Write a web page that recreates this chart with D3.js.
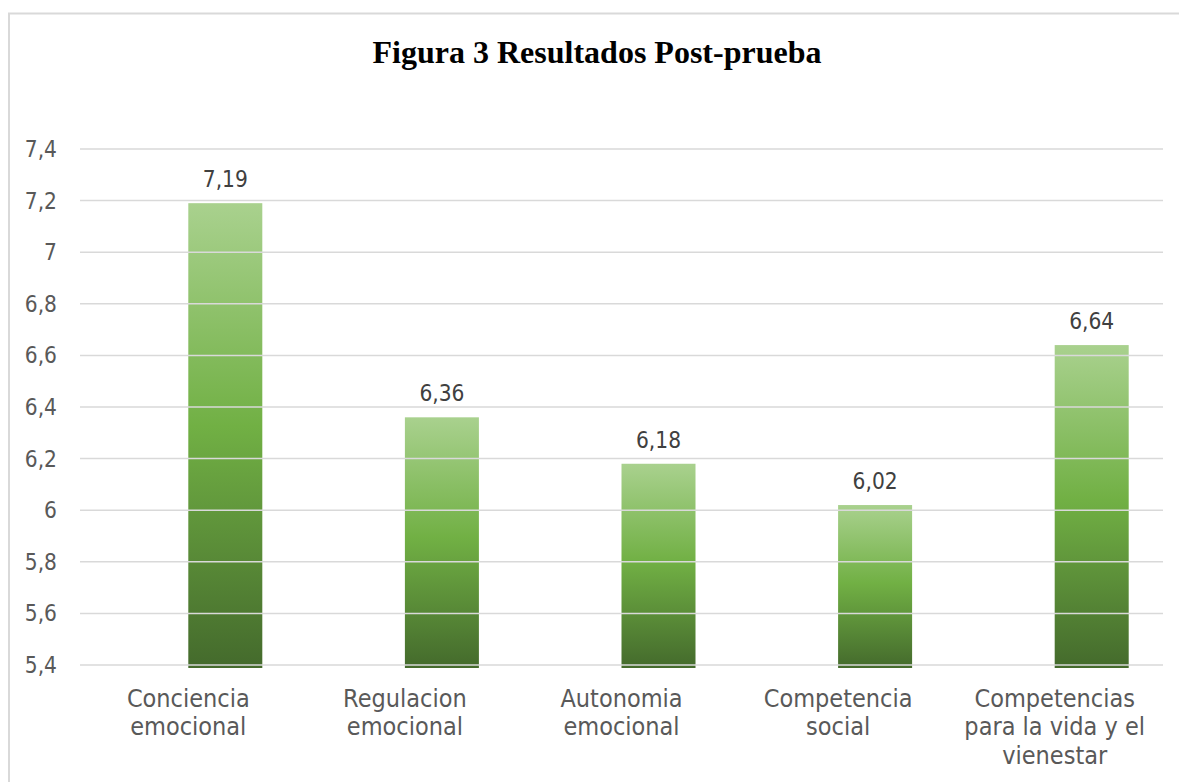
<!DOCTYPE html>
<meta charset="utf-8">
<script src="https://d3js.org/d3.v7.min.js"></script>
<style>
  body { margin: 0; background: #fff; }
</style>
<div id="my_dataviz"></div>
<script>

// data
var categories = [
  ["Conciencia", "emocional"],
  ["Regulacion", "emocional"],
  ["Autonomia", "emocional"],
  ["Competencia", "social"],
  ["Competencias", "para la vida y el", "vienestar"]
];
var values = [7.19, 6.36, 6.18, 6.02, 6.64];
// the original is a clustered chart whose first series is empty
var seriesSlots = ["vacia", "post"];
var yTicks = [5.4, 5.6, 5.8, 6, 6.2, 6.4, 6.6, 6.8, 7, 7.2, 7.4];
var title = "Figura 3 Resultados Post-prueba";

var width = 1179, height = 782;
var sans = "'DejaVu Sans', Verdana, sans-serif";

var svg = d3.select("#my_dataviz")
  .append("svg")
    .attr("width", width)
    .attr("height", height);

// frame (only top and left edges show in the crop)
svg.append("path")
  .attr("d", "M9,782 V13.5 H1179")
  .attr("fill", "none")
  .attr("stroke", "#d9d9d9")
  .attr("stroke-width", 2);

// title
svg.append("text")
  .attr("x", 597)
  .attr("y", 63)
  .attr("text-anchor", "middle")
  .style("font-family", "'Liberation Serif', 'Times New Roman', serif")
  .style("font-weight", "bold")
  .style("font-size", "32px")
  .style("fill", "#000")
  .text(title);

// scales
var idx = categories.map(function(d, i) { return i; });
var x = d3.scaleBand()
  .domain(idx)
  .range([80, 1163]);

var xSub = d3.scaleBand()
  .domain(seriesSlots)
  .range([0, x.bandwidth()])
  .paddingInner(0)
  .paddingOuter(0.4635);

var y = d3.scaleLinear()
  .domain([5.4, 7.4])
  .range([665, 149]);

// bar gradient
var defs = svg.append("defs");
var grad = defs.append("linearGradient")
  .attr("id", "barGrad")
  .attr("x1", 0).attr("y1", 0)
  .attr("x2", 0).attr("y2", 1);
grad.append("stop").attr("offset", "0%").attr("stop-color", "#a9d18e");
grad.append("stop").attr("offset", "48%").attr("stop-color", "#71b044");
grad.append("stop").attr("offset", "100%").attr("stop-color", "#446a2c");

var barX = function(i) { return x(i) + xSub("post"); };

// bars
svg.append("g")
  .selectAll("rect")
  .data(values)
  .enter()
  .append("rect")
    .attr("x", function(d, i) { return barX(i); })
    .attr("y", function(d) { return y(d); })
    .attr("width", xSub.bandwidth())
    .attr("height", function(d) { return y(5.4) - y(d) + 3; })
    .attr("fill", "url(#barGrad)");

// gridlines, drawn over the bars
svg.append("g")
  .selectAll("line")
  .data(yTicks)
  .enter()
  .append("line")
    .attr("x1", 80)
    .attr("x2", 1163)
    .attr("y1", function(d) { return y(d); })
    .attr("y2", function(d) { return y(d); })
    .attr("stroke", "#d9d9d9")
    .attr("stroke-width", 1.5);

var fmt = function(v) { return String(v).replace(".", ","); };

// y tick labels (font is a bit narrower than DejaVu, so squeeze it)
svg.append("g")
  .selectAll("text")
  .data(yTicks)
  .enter()
  .append("text")
    .attr("transform", function(d) { return "translate(57," + (y(d) + 8) + ") scale(0.88,1)"; })
    .attr("text-anchor", "end")
    .style("font-family", sans)
    .style("font-size", "23px")
    .style("fill", "#595959")
    .text(fmt);

// value labels
svg.append("g")
  .selectAll("text")
  .data(values)
  .enter()
  .append("text")
    .attr("transform", function(d, i) {
      return "translate(" + (barX(i) + xSub.bandwidth() / 2) + "," + (y(d) - 16) + ") scale(0.88,1)";
    })
    .attr("text-anchor", "middle")
    .style("font-family", sans)
    .style("font-size", "23px")
    .style("fill", "#404040")
    .text(fmt);

// category labels, centred on the whole category band
var sx = 0.9;
var cat = svg.append("g")
  .selectAll("text")
  .data(categories)
  .enter()
  .append("text")
    .attr("transform", function(d, i) {
      return "translate(" + (x(i) + x.bandwidth() / 2) + ",707) scale(" + sx + ",1)";
    })
    .attr("text-anchor", "middle")
    .style("font-family", sans)
    .style("font-size", "25px")
    .style("fill", "#595959");

cat.each(function(lines) {
  var t = d3.select(this);
  lines.forEach(function(s, k) {
    t.append("tspan")
      .attr("x", 0)
      .attr("y", k * 28.5)
      .text(s);
  });
});

</script>
